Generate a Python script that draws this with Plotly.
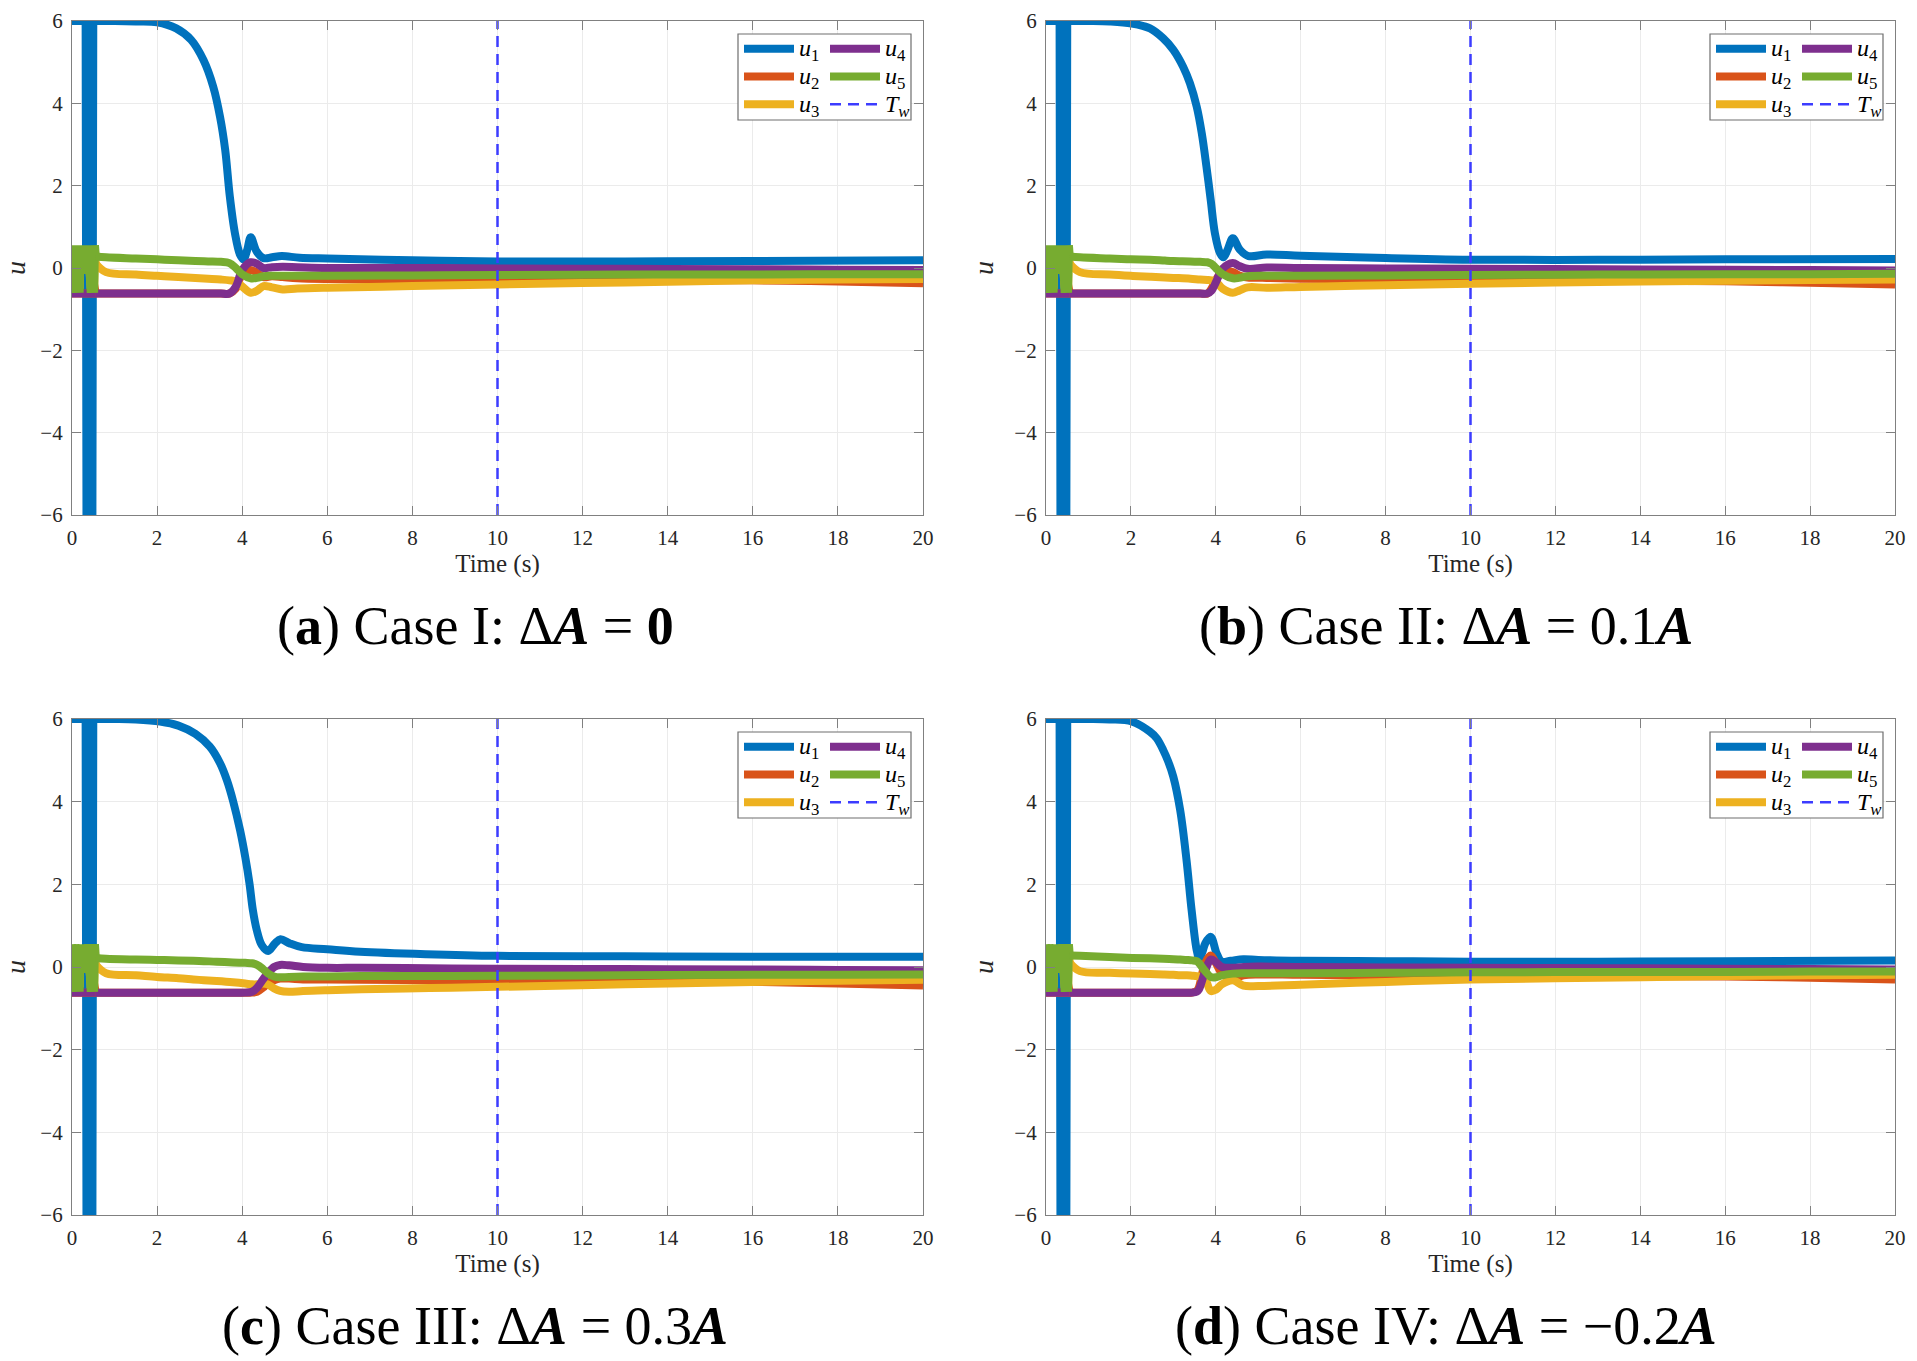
import plotly.graph_objects as go

W, H = 1917, 1361
TW = 10.0
X_RANGE = [0, 20]
Y_RANGE = [-6, 6]

COLORS = ['#0072BD', '#D95319', '#EDB120', '#7E2F8E', '#77AC30']
TW_COLOR = '#3c3cff'
NAMES = ['<i>u</i><sub>1</sub>', '<i>u</i><sub>2</sub>', '<i>u</i><sub>3</sub>',
         '<i>u</i><sub>4</sub>', '<i>u</i><sub>5</sub>']
TW_NAME = '<i>T</i><sub><i>w</i></sub>'
CAPTIONS = [
    '(<b>a</b>) Case I: Δ<b><i>A</i></b> = <b>0</b>',
    '(<b>b</b>) Case II: Δ<b><i>A</i></b> = 0.1<b><i>A</i></b>',
    '(<b>c</b>) Case III: Δ<b><i>A</i></b> = 0.3<b><i>A</i></b>',
    '(<b>d</b>) Case IV: Δ<b><i>A</i></b> = −0.2<b><i>A</i></b>',
]

# switching burst during the first half second (looks the same in all cases)
U1_BURST_T = [0.00, 0.32, 0.34, 0.40, 0.42, 0.44, 0.48, 0.50]
U1_BURST = [6.0, 6.0, -6.0, -6.0, -2.0, -6.0, -6.0, 6.0]
BURST_T = [0.00, 0.02, 0.04, 0.06, 0.08, 0.10, 0.12, 0.14, 0.16, 0.18, 0.20,
           0.23, 0.35, 0.38, 0.40, 0.42, 0.44, 0.46, 0.48, 0.50, 0.52, 0.54]
U2_BURST = [-0.62, -0.62, -0.62, -0.62, -0.62, -0.62, -0.62, -0.62, -0.62, -0.62, -0.62,
            -0.62, -0.62, -0.62, -0.62, -0.62, -0.62, -0.62, -0.62, -0.3, -0.62, -0.62]
U3_BURST = [0.45, -0.5, 0.45, -0.5, 0.45, -0.5, 0.45, -0.5, 0.45, -0.5, 0.45,
            0.0, 0.0, 0.45, -0.5, 0.45, -0.5, 0.45, -0.5, 0.45, -0.5, 0.3]
U4_BURST = [-0.62, -0.62, -0.62, -0.62, -0.62, -0.62, -0.62, -0.62, -0.62, -0.62, -0.62,
            -0.62, -0.62, -0.62, -0.62, -0.62, -0.62, -0.62, -0.62, -0.62, -0.62, -0.62]
U5_BURST = [0.55, -0.6, 0.55, -0.6, 0.55, -0.6, 0.55, -0.6, 0.55, -0.6, 0.55,
            -0.05, -0.05, 0.55, -0.6, 0.55, -0.6, 0.55, -0.6, 0.55, -0.6, 0.55]

# Case I
T1_A = [0.56, 1.0, 1.5, 2.0, 2.45, 2.8, 3.09, 3.32, 3.48, 3.6, 3.71, 3.83, 3.95, 4.03, 4.12,
        4.2, 4.34, 4.5, 4.7, 4.93, 5.35, 6.0, 8.0, 10.0, 13.0, 16.0, 20.0]
U1_A = [6.0, 6.0, 5.99, 5.97, 5.82, 5.54, 5.05, 4.4, 3.67, 2.87, 1.73, 0.84, 0.32, 0.21, 0.45,
        0.75, 0.4, 0.24, 0.26, 0.29, 0.25, 0.23, 0.19, 0.16, 0.16, 0.17, 0.19]
T_A = [0.56, 0.8, 1.5, 2.0, 2.5, 2.9, 3.2, 3.5, 3.7, 3.85, 4.0, 4.2, 4.35, 4.5, 4.7, 4.95,
       5.3, 6.0, 8.0, 10.0, 13.0, 16.0, 18.0, 20.0]
U2_A = [-0.62, -0.62, -0.62, -0.62, -0.62, -0.62, -0.62, -0.62, -0.62, -0.5, -0.15, -0.05, -0.12,
        -0.22, -0.2, -0.22, -0.25, -0.27, -0.29, -0.3, -0.3, -0.3, -0.33, -0.37]
U3_A = [0.1, -0.1, -0.16, -0.19, -0.22, -0.24, -0.26, -0.28, -0.3, -0.33, -0.45, -0.6, -0.55, -0.44,
        -0.47, -0.52, -0.5, -0.48, -0.44, -0.4, -0.35, -0.3, -0.28, -0.27]
U4_A = [-0.62, -0.62, -0.62, -0.62, -0.62, -0.62, -0.62, -0.62, -0.62, -0.45, -0.05, 0.14, 0.1, 0.0,
        0.02, 0.03, 0.02, 0.0, 0.0, -0.01, -0.02, -0.03, -0.04, -0.05]
U5_A = [0.28, 0.26, 0.23, 0.21, 0.19, 0.17, 0.16, 0.15, 0.12, 0.0, -0.15, -0.25, -0.24, -0.2, -0.19,
        -0.19, -0.19, -0.19, -0.18, -0.17, -0.16, -0.16, -0.15, -0.15]

# Case II
T1_B = [0.56, 1.0, 1.5, 2.02, 2.45, 2.76, 3.0, 3.23, 3.39, 3.55, 3.67, 3.78, 3.88, 3.98, 4.1,
        4.18, 4.28, 4.4, 4.57, 4.77, 5.2, 6.0, 8.0, 10.0, 13.0, 16.0, 20.0]
U1_B = [6.0, 6.0, 5.99, 5.94, 5.82, 5.58, 5.3, 4.89, 4.49, 3.92, 3.27, 2.46, 1.65, 0.84, 0.36,
        0.26, 0.45, 0.72, 0.44, 0.29, 0.33, 0.3, 0.24, 0.2, 0.2, 0.21, 0.22]
T_B = [0.56, 0.8, 1.5, 2.0, 2.45, 2.8, 3.0, 3.4, 3.63, 3.8, 3.9, 4.0, 4.16, 4.4, 4.55, 4.75,
       5.2, 6.0, 8.0, 10.0, 13.0, 16.0, 18.0, 20.0]
U2_B = [-0.62, -0.62, -0.62, -0.62, -0.62, -0.62, -0.62, -0.62, -0.62, -0.62, -0.5, -0.3, -0.08,
        -0.1, -0.18, -0.23, -0.24, -0.26, -0.28, -0.3, -0.31, -0.32, -0.36, -0.4]
U3_B = [0.1, -0.1, -0.16, -0.19, -0.21, -0.23, -0.24, -0.26, -0.28, -0.29, -0.3, -0.33, -0.5, -0.6,
        -0.55, -0.47, -0.48, -0.46, -0.42, -0.38, -0.34, -0.31, -0.29, -0.28]
U4_B = [-0.62, -0.62, -0.62, -0.62, -0.62, -0.62, -0.62, -0.62, -0.62, -0.62, -0.55, -0.35, -0.02,
        0.12, 0.05, -0.02, 0.01, 0.0, -0.01, -0.02, -0.03, -0.04, -0.05, -0.06]
U5_B = [0.28, 0.26, 0.23, 0.21, 0.2, 0.18, 0.17, 0.16, 0.15, 0.14, 0.1, 0.0, -0.15, -0.25, -0.24,
        -0.2, -0.19, -0.19, -0.18, -0.17, -0.16, -0.15, -0.15, -0.14]

# Case III
T1_C = [0.56, 1.0, 1.5, 2.07, 2.5, 2.9, 3.24, 3.48, 3.64, 3.79, 3.95, 4.07, 4.17, 4.25, 4.34,
        4.46, 4.61, 4.77, 4.9, 5.12, 5.4, 6.0, 6.77, 8.33, 10.0, 13.0, 16.0, 20.0]
U1_C = [6.0, 6.0, 5.99, 5.94, 5.84, 5.64, 5.33, 4.93, 4.52, 4.0, 3.31, 2.67, 2.03, 1.38, 0.9,
        0.53, 0.39, 0.57, 0.67, 0.57, 0.48, 0.43, 0.37, 0.31, 0.27, 0.26, 0.25, 0.25]
T_C = [0.56, 0.8, 1.5, 2.0, 2.5, 2.85, 3.1, 3.4, 3.78, 4.07, 4.23, 4.35, 4.49, 4.6, 4.75, 4.89,
       5.1, 5.43, 6.0, 6.8, 8.4, 10.0, 13.0, 16.0, 18.0, 20.0]
U2_C = [-0.62, -0.62, -0.62, -0.62, -0.62, -0.62, -0.62, -0.62, -0.62, -0.62, -0.62, -0.6, -0.5,
        -0.4, -0.32, -0.28, -0.28, -0.3, -0.3, -0.31, -0.32, -0.33, -0.34, -0.36, -0.4, -0.45]
U3_C = [0.05, -0.15, -0.2, -0.24, -0.27, -0.3, -0.32, -0.34, -0.37, -0.4, -0.42, -0.42, -0.4, -0.42,
        -0.52, -0.58, -0.6, -0.58, -0.56, -0.54, -0.51, -0.48, -0.42, -0.36, -0.33, -0.31]
U4_C = [-0.62, -0.62, -0.62, -0.62, -0.62, -0.62, -0.62, -0.62, -0.62, -0.62, -0.6, -0.5, -0.3,
        -0.15, 0.0, 0.05, 0.04, 0.0, -0.02, -0.02, -0.03, -0.04, -0.05, -0.06, -0.07, -0.08]
U5_C = [0.22, 0.2, 0.18, 0.17, 0.16, 0.15, 0.14, 0.13, 0.11, 0.1, 0.09, 0.05, -0.05, -0.15, -0.23,
        -0.25, -0.24, -0.23, -0.23, -0.22, -0.22, -0.21, -0.2, -0.19, -0.19, -0.18]

# Case IV
T1_D = [0.56, 1.0, 1.5, 2.02, 2.45, 2.61, 2.76, 2.88, 3.0, 3.16, 3.31, 3.43, 3.55, 3.61, 3.68,
        3.75, 3.88, 4.02, 4.14, 4.35, 4.65, 5.0, 6.0, 8.0, 10.0, 13.0, 16.0, 20.0]
U1_D = [6.0, 6.0, 5.99, 5.94, 5.69, 5.53, 5.25, 4.97, 4.6, 3.8, 2.59, 1.38, 0.41, 0.21, 0.35,
        0.57, 0.73, 0.33, 0.13, 0.15, 0.19, 0.17, 0.15, 0.14, 0.13, 0.13, 0.14, 0.16]
T_D = [0.56, 0.8, 1.5, 2.03, 2.45, 2.76, 3.0, 3.16, 3.32, 3.44, 3.55, 3.6, 3.75, 3.88, 4.0, 4.14,
       4.4, 4.65, 5.0, 6.0, 8.0, 10.0, 13.0, 16.0, 18.0, 20.0]
U2_D = [-0.62, -0.62, -0.62, -0.62, -0.62, -0.62, -0.62, -0.62, -0.62, -0.62, -0.58, -0.5, 0.1,
        0.28, 0.1, -0.15, -0.27, -0.2, -0.18, -0.19, -0.2, -0.21, -0.22, -0.23, -0.26, -0.3]
U3_D = [0.1, -0.1, -0.14, -0.16, -0.17, -0.18, -0.19, -0.2, -0.2, -0.21, -0.22, -0.23, -0.3, -0.58,
        -0.55, -0.42, -0.32, -0.45, -0.46, -0.43, -0.36, -0.3, -0.26, -0.22, -0.2, -0.19]
U4_D = [-0.62, -0.62, -0.62, -0.62, -0.62, -0.62, -0.62, -0.62, -0.62, -0.62, -0.6, -0.55, -0.1,
        0.18, 0.12, 0.0, -0.02, 0.0, 0.01, 0.0, -0.01, -0.02, -0.03, -0.04, -0.05, -0.06]
U5_D = [0.28, 0.27, 0.24, 0.22, 0.21, 0.2, 0.19, 0.18, 0.17, 0.16, 0.14, 0.1, -0.1, -0.24, -0.25,
        -0.2, -0.16, -0.15, -0.15, -0.15, -0.14, -0.13, -0.12, -0.12, -0.11, -0.11]

panels = [
    ([T1_A, T_A, T_A, T_A, T_A], [U1_A, U2_A, U3_A, U4_A, U5_A]),
    ([T1_B, T_B, T_B, T_B, T_B], [U1_B, U2_B, U3_B, U4_B, U5_B]),
    ([T1_C, T_C, T_C, T_C, T_C], [U1_C, U2_C, U3_C, U4_C, U5_C]),
    ([T1_D, T_D, T_D, T_D, T_D], [U1_D, U2_D, U3_D, U4_D, U5_D]),
]
bursts = [(U1_BURST_T, U1_BURST), (BURST_T, U2_BURST), (BURST_T, U3_BURST),
          (BURST_T, U4_BURST), (BURST_T, U5_BURST)]

# pixel boxes of the axes: left, right, top, bottom
boxes = [(72, 923, 21, 515), (1046, 1895, 21, 515),
         (72, 923, 719, 1215), (1046, 1895, 719, 1215)]
# caption centres sit a little left of the axes centre (sub-figure incl. y label)
caption_x = [475, 1446, 475, 1446]

LW = 8
FONT = 'Liberation Serif'
AX_COL = '#808080'
TXT_COL = '#262626'


def leg_name(s):
    # bigger glyphs than the legend font, which only sets the row pitch
    return '<span style="font-size:24px">' + s + '</span>'


fig = go.Figure()
layout = {}
shapes = []
annotations = []

for k, ((times, series), (l, r, top, bot)) in enumerate(zip(panels, boxes)):
    n = '' if k == 0 else str(k + 1)
    xa, ya = 'x' + n, 'y' + n
    leg1 = 'legend' if k == 0 else 'legend' + str(2 * k + 1)
    leg2 = 'legend' + str(2 * k + 2)

    for i in range(5):
        bt, bv = bursts[i]
        t = times[i]
        fig.add_trace(go.Scatter(
            x=bt + [t[0]], y=bv + [series[i][0]], mode='lines',
            line=dict(color=COLORS[i], width=LW), xaxis=xa, yaxis=ya,
            showlegend=False, hoverinfo='skip'))
        fig.add_trace(go.Scatter(
            x=t, y=series[i], mode='lines', name=leg_name(NAMES[i]),
            line=dict(color=COLORS[i], width=LW, shape='spline', smoothing=1.0),
            xaxis=xa, yaxis=ya, legend=leg1 if i < 3 else leg2))
    fig.add_trace(go.Scatter(
        x=[TW, TW], y=Y_RANGE, mode='lines', name=leg_name(TW_NAME),
        line=dict(color=TW_COLOR, width=2.5, dash='11px,7px'),
        xaxis=xa, yaxis=ya, legend=leg2))

    axis_common = dict(
        showgrid=True, gridcolor='#ebebeb', gridwidth=1, zeroline=False,
        showline=True, linecolor=AX_COL, linewidth=1.3, mirror='ticks',
        ticks='inside', ticklen=9, tickwidth=1.2, tickcolor=AX_COL,
        tickfont=dict(family=FONT, size=21, color=TXT_COL),
        dtick=2, tick0=0, automargin=False)
    layout['xaxis' + n] = dict(
        axis_common, domain=[l / W, r / W], range=X_RANGE, anchor=ya,
        ticklabelstandoff=4,
        title=dict(text='Time (s)', font=dict(family=FONT, size=25, color=TXT_COL), standoff=4))
    layout['yaxis' + n] = dict(
        axis_common, domain=[1 - bot / H, 1 - top / H], range=Y_RANGE, anchor=xa,
        ticklabelstandoff=4,
        title=dict(text='<i>u</i>', font=dict(family=FONT, size=28, color=TXT_COL), standoff=12))

    # legend frame, two columns
    bx0, bx1 = r - 185, r - 12
    by0, by1 = top + 13, top + 99
    shapes.append(dict(type='rect', xref='paper', yref='paper',
                       x0=bx0 / W, x1=bx1 / W, y0=1 - by1 / H, y1=1 - by0 / H,
                       fillcolor='white', line=dict(color='#6e6e6e', width=1.2), layer='above'))
    leg_style = dict(xanchor='left', yanchor='top', bgcolor='rgba(0,0,0,0)', borderwidth=0,
                     font=dict(family=FONT, size=19, color='black'), itemwidth=50,
                     tracegroupgap=0)
    layout[leg1] = dict(leg_style, x=(bx0 + 1) / W, y=1 - (by0 - 4) / H)
    layout[leg2] = dict(leg_style, x=(bx0 + 87) / W, y=1 - (by0 - 4) / H)

    annotations.append(dict(
        text=CAPTIONS[k], xref='paper', yref='paper', x=caption_x[k] / W,
        y=1 - (bot + 111) / H, xanchor='center', yanchor='middle', showarrow=False,
        font=dict(family=FONT, size=54, color='black')))

fig.update_layout(
    width=W, height=H, margin=dict(l=0, r=0, t=0, b=0),
    paper_bgcolor='white', plot_bgcolor='white',
    shapes=shapes, annotations=annotations, **layout)

fig.write_html("out.html", config={'displayModeBar': False},
               post_script="document.body.style.margin = '0';")
